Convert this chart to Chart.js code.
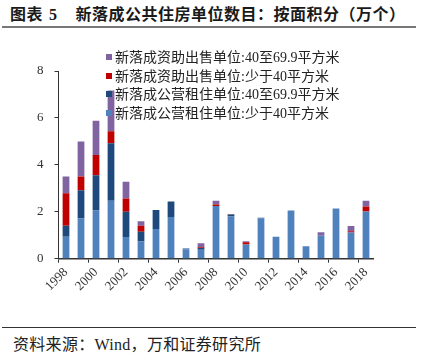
<!DOCTYPE html>
<html>
<head>
<meta charset="utf-8">
<script src="https://cdn.jsdelivr.net/npm/chart.js@4"></script>
<style>
  body { margin: 0; width: 426px; height: 362px; background: #fff; position: relative; overflow: hidden; }
  #title { position: absolute; left: 10px; top: 1px; font: bold 16px "Noto Sans CJK SC", sans-serif; letter-spacing: 0.5px; color: #1a1a1a; white-space: nowrap; }
  #title .num { font-family: "Liberation Serif", serif; margin: 0 18px 0 6px; }
  #topline { position: absolute; left: 2px; top: 26px; width: 414px; height: 2px; background: #777; }
  #wrap { position: absolute; left: 0; top: 30px; width: 426px; height: 295px; }
  #legend { position: absolute; left: 106px; top: 49px; font: 14px "Liberation Serif", "Noto Sans CJK SC", serif; color: #222; }
  #legend div { height: 18.5px; line-height: 18.5px; white-space: nowrap; }
  #legend span { display: inline-block; width: 6px; height: 6px; margin-right: 3px; vertical-align: 2px; }
  #bottomline { position: absolute; left: 2px; top: 327px; width: 414px; height: 1px; background: #333; }
  #source { position: absolute; left: 13px; top: 331px; font: 16px "Liberation Serif", "Noto Sans CJK SC", serif; letter-spacing: 0.3px; color: #222; white-space: nowrap; }
</style>
</head>
<body>
<div id="title">图表<span class="num">5</span>新落成公共住房单位数目：按面积分（万个）</div>
<div id="topline"></div>
<div id="wrap"><canvas id="chart" width="426" height="295"></canvas></div>
<div id="legend"></div>
<div id="bottomline"></div>
<div id="source">资料来源：Wind，万和证券研究所</div>
<script>
// categories
const years = ['1998', '1999', '2000', '2001', '2002', '2003', '2004', '2005', '2006', '2007', '2008',
  '2009', '2010', '2011', '2012', '2013', '2014', '2015', '2016', '2017', '2018']

// series values (万个)
const rentSmall = [0.94, 1.71, 2.05, 2.47, 0.93, 0.73, 1.27, 1.78, 0.40, 0.38, 2.25, 1.80, 0.60, 1.71, 0.94, 2.05, 0.53, 0.98, 2.14, 1.12, 2.01]
const rentMid = [0.46, 1.21, 1.51, 2.45, 1.07, 0.42, 0.81, 0.66, 0.03, 0.08, 0, 0.08, 0, 0.04, 0, 0, 0, 0, 0, 0, 0]
const saleSmall = [1.39, 0.58, 0.86, 0.51, 0.57, 0.25, 0, 0, 0, 0.03, 0.06, 0.01, 0.10, 0, 0, 0, 0, 0, 0, 0.05, 0.21]
const saleMid = [0.71, 1.50, 1.46, 1.74, 0.71, 0.20, 0, 0, 0, 0.17, 0.16, 0.02, 0.04, 0, 0, 0, 0, 0.15, 0, 0.22, 0.25]

// y axis
const yMax = 8
const yStep = 2

const series = [
  { label: '新落成公营租住单位:少于40平方米', data: rentSmall, color: '#4F81BD' },
  { label: '新落成公营租住单位:40至69.9平方米', data: rentMid, color: '#1F497D' },
  { label: '新落成资助出售单位:少于40平方米', data: saleSmall, color: '#C00000' },
  { label: '新落成资助出售单位:40至69.9平方米', data: saleMid, color: '#8064A2' }
]

// legend: top item is the top of the stack
const legendEl = document.getElementById('legend')
series.slice().reverse().forEach((s) => {
  const row = document.createElement('div')
  const box = document.createElement('span')
  box.style.background = s.color
  row.appendChild(box)
  row.appendChild(document.createTextNode(s.label))
  legendEl.appendChild(row)
})

const tickFont = { family: '"Liberation Serif", serif', size: 13 }

new Chart(document.getElementById('chart'), {
  type: 'bar',
  data: {
    labels: years,
    datasets: series.map((s) => ({
      label: s.label,
      data: s.data,
      backgroundColor: s.color,
      borderWidth: 0,
      barPercentage: 0.45,
      categoryPercentage: 1
    }))
  },
  options: {
    responsive: false,
    animation: false,
    layout: { padding: { left: 0, right: 52.5, top: 41, bottom: 20 } },
    plugins: { legend: { display: false }, tooltip: { enabled: false } },
    scales: {
      x: {
        stacked: true,
        afterFit: (scale) => { scale.height = 46.3 },
        grid: {
          display: true,
          drawOnChartArea: false,
          offset: true,
          tickLength: 4,
          tickWidth: 1,
          tickColor: (ctx) => (ctx.index % 2 === 0 && ctx.index < years.length ? '#333' : 'rgba(0,0,0,0)')
        },
        border: { display: true, color: '#333', width: 1.5 },
        ticks: {
          autoSkip: false,
          maxRotation: 45,
          minRotation: 45,
          padding: 2,
          color: '#333',
          font: tickFont,
          callback: function (value, index) { return index % 2 === 0 ? years[index] : '' }
        }
      },
      y: {
        stacked: true,
        min: 0,
        max: yMax,
        afterFit: (scale) => { scale.width = 58.5 },
        grid: { display: true, drawOnChartArea: false, tickLength: 4, tickColor: '#333' },
        border: { display: true, color: '#333', width: 1 },
        ticks: { stepSize: yStep, padding: 11, color: '#333', font: tickFont }
      }
    }
  }
})
</script>
</body>
</html>
